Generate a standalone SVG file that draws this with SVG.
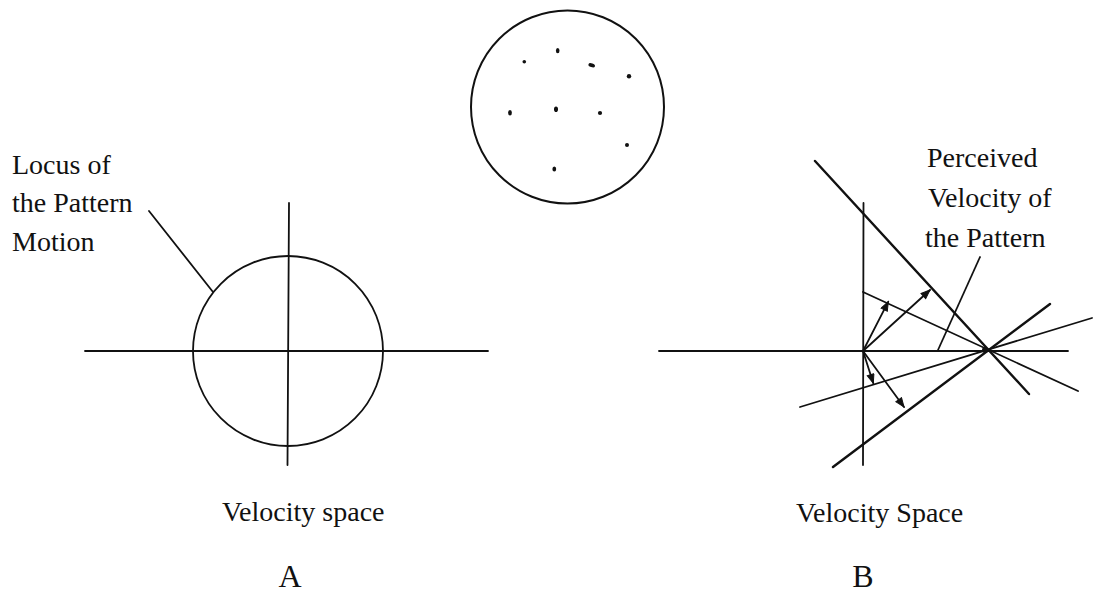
<svg xmlns="http://www.w3.org/2000/svg" width="1093" height="592" viewBox="0 0 1093 592">
<style>
text{font-family:"Liberation Serif","Times New Roman",serif;fill:#111}
.lbl{font-size:28px}
.big{font-size:32px}
.ln{stroke:#111;fill:none;stroke-linecap:round}
.thin{stroke-width:1.8}
.thick{stroke-width:2.4}
.dot{fill:#111}
</style>
<defs>
<marker id="ah" markerUnits="userSpaceOnUse" markerWidth="12" markerHeight="10" refX="10" refY="4" orient="auto">
<path d="M1,0.5 L10,4 L1,7.5 Z" fill="#111" stroke="#111" stroke-width="1"/>
</marker>
</defs>
<rect width="1093" height="592" fill="#fff"/>

<g id="dot-pattern">
<circle cx="567.5" cy="107" r="96.5" class="ln" stroke-width="2"/>
<ellipse class="dot" cx="557.7" cy="50.7" rx="1.8" ry="2.6"/>
<circle class="dot" cx="524.3" cy="61.7" r="1.8"/>
<ellipse class="dot" cx="591.7" cy="65.3" rx="3.4" ry="1.9" transform="rotate(20 591.7 65.3)"/>
<circle class="dot" cx="629" cy="76.3" r="2.2"/>
<ellipse class="dot" cx="510" cy="112.7" rx="1.9" ry="2.7"/>
<ellipse class="dot" cx="556" cy="109.3" rx="2" ry="2.8"/>
<circle class="dot" cx="600" cy="113" r="2.1"/>
<circle class="dot" cx="627" cy="145" r="2"/>
<ellipse class="dot" cx="554.3" cy="169" rx="1.9" ry="2.6"/>
</g>

<g id="panel-a">
<line class="ln thin" x1="85" y1="351" x2="488" y2="351"/>
<line class="ln thin" x1="289" y1="203" x2="287.5" y2="465"/>
<circle class="ln thin" cx="288" cy="351" r="95"/>
<text class="lbl" x="12" y="174">Locus of</text>
<text class="lbl" x="12" y="212">the Pattern</text>
<text class="lbl" x="12" y="251">Motion</text>
<text class="lbl" x="222" y="521">Velocity space</text>
<text class="big" x="290" y="587" text-anchor="middle">A</text>
</g>

<g id="panel-b">
<line class="ln thin" x1="659" y1="351" x2="1068" y2="351"/>
<line class="ln thin" x1="863.5" y1="203" x2="863" y2="465"/>
<text class="lbl" x="927" y="167">Perceived</text>
<text class="lbl" x="928" y="207">Velocity of</text>
<text class="lbl" x="925" y="247">the Pattern</text>
<text class="lbl" x="796" y="522">Velocity Space</text>
<text class="big" x="863" y="587" text-anchor="middle">B</text>
</g>

<g id="connectors">
<line class="ln thin" x1="149" y1="211" x2="213" y2="292"/>
<line class="ln thick" x1="815" y1="161" x2="1029" y2="394"/>
<line class="ln thin" x1="863" y1="292" x2="1078" y2="391"/>
<line class="ln thick" x1="833" y1="467" x2="1050" y2="304"/>
<line class="ln thin" x1="800" y1="407" x2="1092" y2="318"/>
<line class="ln thin" x1="980" y1="257" x2="938" y2="350"/>
<line class="ln thin" x1="863" y1="351" x2="888.3" y2="301.7" marker-end="url(#ah)"/>
<line class="ln thin" x1="863" y1="351" x2="930" y2="290" marker-end="url(#ah)"/>
<line class="ln thin" x1="863" y1="351" x2="873.3" y2="383.3" marker-end="url(#ah)"/>
<line class="ln thin" x1="863" y1="351" x2="904" y2="407" marker-end="url(#ah)"/>
<circle class="dot" cx="985" cy="350" r="3"/>
</g>
</svg>
